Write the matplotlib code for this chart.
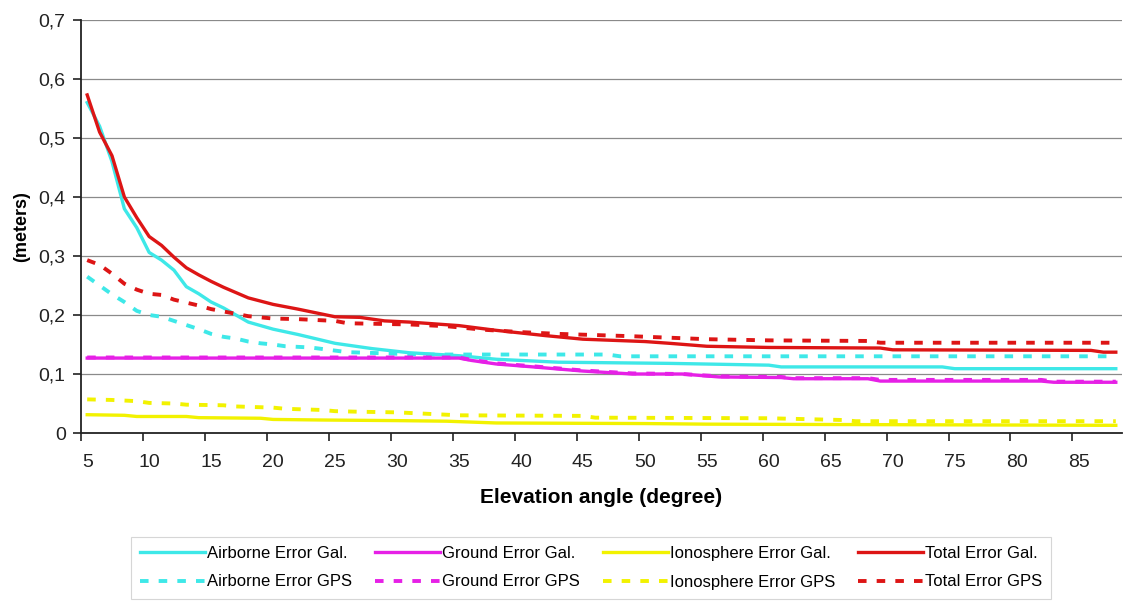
import numpy as np
import matplotlib
matplotlib.use("Agg")
from matplotlib import pyplot as plt

plt.rcParams['font.family'] = ['Liberation Sans', 'DejaVu Sans']

# elevation angle (degree) / error (meters)
airGalX = [5, 6, 7, 8, 9, 10, 11, 12, 13, 14, 15, 16, 18, 20, 22, 25, 28, 31, 35, 38, 43, 52, 60, 61, 74, 75, 88]
airGalY = [0.56, 0.52, 0.46, 0.38, 0.348, 0.306, 0.293, 0.276, 0.248, 0.236, 0.222, 0.212, 0.188, 0.176, 0.167,
           0.152, 0.143, 0.136, 0.131, 0.125, 0.12, 0.118, 0.115, 0.112, 0.112, 0.109, 0.109]

airGpsX = [5, 6, 7, 8, 9, 10, 11, 12, 13, 14, 15, 16, 17, 18, 19, 20, 21, 23, 26, 29, 32, 47, 48, 88]
airGpsY = [0.265, 0.25, 0.235, 0.222, 0.207, 0.2, 0.197, 0.19, 0.183, 0.176, 0.168, 0.163, 0.16, 0.155, 0.152,
           0.15, 0.147, 0.145, 0.137, 0.135, 0.133, 0.133, 0.13, 0.13]

groundGalX = [5, 35, 36, 38, 41, 45, 49, 53, 56, 61, 62, 68, 69, 82, 83, 88]
groundGalY = [0.127, 0.127, 0.123, 0.117, 0.112, 0.105, 0.1, 0.1, 0.095, 0.094, 0.092, 0.092, 0.088, 0.088,
              0.086, 0.086]

groundGpsX = [5, 35, 36, 38, 41, 45, 49, 53, 56, 61, 62, 68, 69, 82, 83, 88]
groundGpsY = [0.128, 0.128, 0.124, 0.118, 0.113, 0.106, 0.101, 0.1, 0.096, 0.095, 0.093, 0.093, 0.09, 0.09,
              0.087, 0.087]

ionoGalX = [5, 8, 9, 13, 14, 19, 20, 24, 30, 34, 38, 50, 55, 88]
ionoGalY = [0.031, 0.03, 0.028, 0.028, 0.026, 0.025, 0.023, 0.022, 0.021, 0.02, 0.017, 0.016, 0.015, 0.013]

ionoGpsX = [5, 7, 9, 10, 12, 13, 16, 17, 20, 21, 24, 25, 27, 30, 33, 35, 45, 46, 60, 66, 67, 88]
ionoGpsY = [0.057, 0.056, 0.054, 0.051, 0.05, 0.048, 0.047, 0.045, 0.043, 0.041, 0.039, 0.037, 0.036, 0.035,
            0.032, 0.03, 0.029, 0.026, 0.025, 0.022, 0.02, 0.02]

totalGalX = [5, 6, 7, 8, 9, 10, 11, 12, 13, 14, 15, 16, 18, 20, 22, 25, 27, 29, 31, 35, 38, 42, 45, 50, 52, 55,
             60, 69, 70, 86, 87, 88]
totalGalY = [0.573, 0.51, 0.47, 0.4, 0.365, 0.333, 0.318, 0.298, 0.28, 0.268, 0.257, 0.247, 0.229, 0.218, 0.21,
             0.197, 0.196, 0.19, 0.188, 0.182, 0.174, 0.165, 0.159, 0.155, 0.152, 0.147, 0.145, 0.144, 0.141,
             0.14, 0.137, 0.137]

totalGpsX = [5, 6, 7, 8, 9, 10, 11, 12, 14, 15, 17, 18, 20, 22, 25, 26, 31, 34, 37, 40, 43, 49, 55, 60, 68, 69, 88]
totalGpsY = [0.293, 0.285, 0.27, 0.253, 0.243, 0.236, 0.234, 0.226, 0.216, 0.21, 0.202, 0.198, 0.194, 0.193,
             0.19, 0.186, 0.184, 0.181, 0.175, 0.171, 0.168, 0.164, 0.159, 0.157, 0.156, 0.153, 0.153]

xTickLabels = list(range(5, 90, 5))
yTicks = [0, 0.1, 0.2, 0.3, 0.4, 0.5, 0.6, 0.7]

cCyan = '#3ee8e8'
cMag = '#e620e6'
cYel = '#f2f200'
cRed = '#dd1515'

fig = plt.figure(figsize=(11.25, 6.01), dpi=100)
ax = fig.add_axes([81 / 1125, 1 - 433 / 601, (1122 - 81) / 1125, (433 - 20) / 601])

for yv in yTicks[1:]:
    ax.axhline(yv, color='#8a8a8a', lw=0.9, zorder=0)

lwS = 2.4
lwD = 2.8
dash = (2.2, 2.6)

hAirGal, = ax.plot(airGalX, airGalY, color=cCyan, lw=lwS, label='Airborne Error Gal.')
hAirGps, = ax.plot(airGpsX, airGpsY, color=cCyan, lw=lwD, dashes=dash, dash_capstyle='butt', label='Airborne Error GPS')
hGrGal, = ax.plot(groundGalX, groundGalY, color=cMag, lw=lwS, label='Ground Error Gal.')
hGrGps, = ax.plot(groundGpsX, groundGpsY, color=cMag, lw=lwD, dashes=dash, dash_capstyle='butt', label='Ground Error GPS')
hIoGal, = ax.plot(ionoGalX, ionoGalY, color=cYel, lw=lwS, label='Ionosphere Error Gal.')
hIoGps, = ax.plot(ionoGpsX, ionoGpsY, color=cYel, lw=lwD, dashes=dash, dash_capstyle='butt', label='Ionosphere Error GPS')
hToGal, = ax.plot(totalGalX, totalGalY, color=cRed, lw=lwS, label='Total Error Gal.')
hToGps, = ax.plot(totalGpsX, totalGpsY, color=cRed, lw=lwD, dashes=dash, dash_capstyle='butt', label='Total Error GPS')

ax.set_xlim(4.5, 88.5)
ax.set_ylim(0, 0.7)

# tick marks between categories, labels on category centres
ax.set_xticks([v - 0.5 for v in xTickLabels])
ax.set_xticklabels([])
ax.set_xticks(xTickLabels, minor=True)
ax.set_xticklabels([str(v) for v in xTickLabels], minor=True, fontsize=14, color='#222222')
ax.tick_params(axis='x', which='major', direction='out', length=6, width=1.2, color='#222222')
ax.tick_params(axis='x', which='minor', length=0, pad=15)

ax.set_yticks(yTicks)
ax.set_yticklabels(['0' if v == 0 else ('%.1f' % v).replace('.', ',') for v in yTicks], fontsize=14, color='#222222')
ax.tick_params(axis='y', direction='out', length=6, width=1.2, color='#222222', pad=5)

ax.spines['top'].set_visible(False)
ax.spines['right'].set_visible(False)
ax.spines['left'].set_linewidth(1.3)
ax.spines['bottom'].set_linewidth(1.3)
ax.spines['left'].set_color('#222222')
ax.spines['bottom'].set_color('#222222')

ax.set_xlabel('Elevation angle (degree)', fontsize=15, fontweight='bold', labelpad=12)
ax.set_ylabel('(meters)', fontsize=13, fontweight='bold', labelpad=6)

handles = [hAirGal, hAirGps, hGrGal, hGrGps, hIoGal, hIoGps, hToGal, hToGps]
leg = fig.legend(handles=handles, labels=[h.get_label() for h in handles], ncol=4,
                 loc='upper left', bbox_to_anchor=(131 / 1125, 1 - 537 / 601),
                 fontsize=12, frameon=True, fancybox=False, edgecolor='#cccccc',
                 handlelength=3.9, handletextpad=0.1, columnspacing=1.4, labelspacing=0.8,
                 borderpad=0.55, borderaxespad=0)
leg.get_frame().set_linewidth(0.8)

fig.savefig('out.png', dpi=100)
